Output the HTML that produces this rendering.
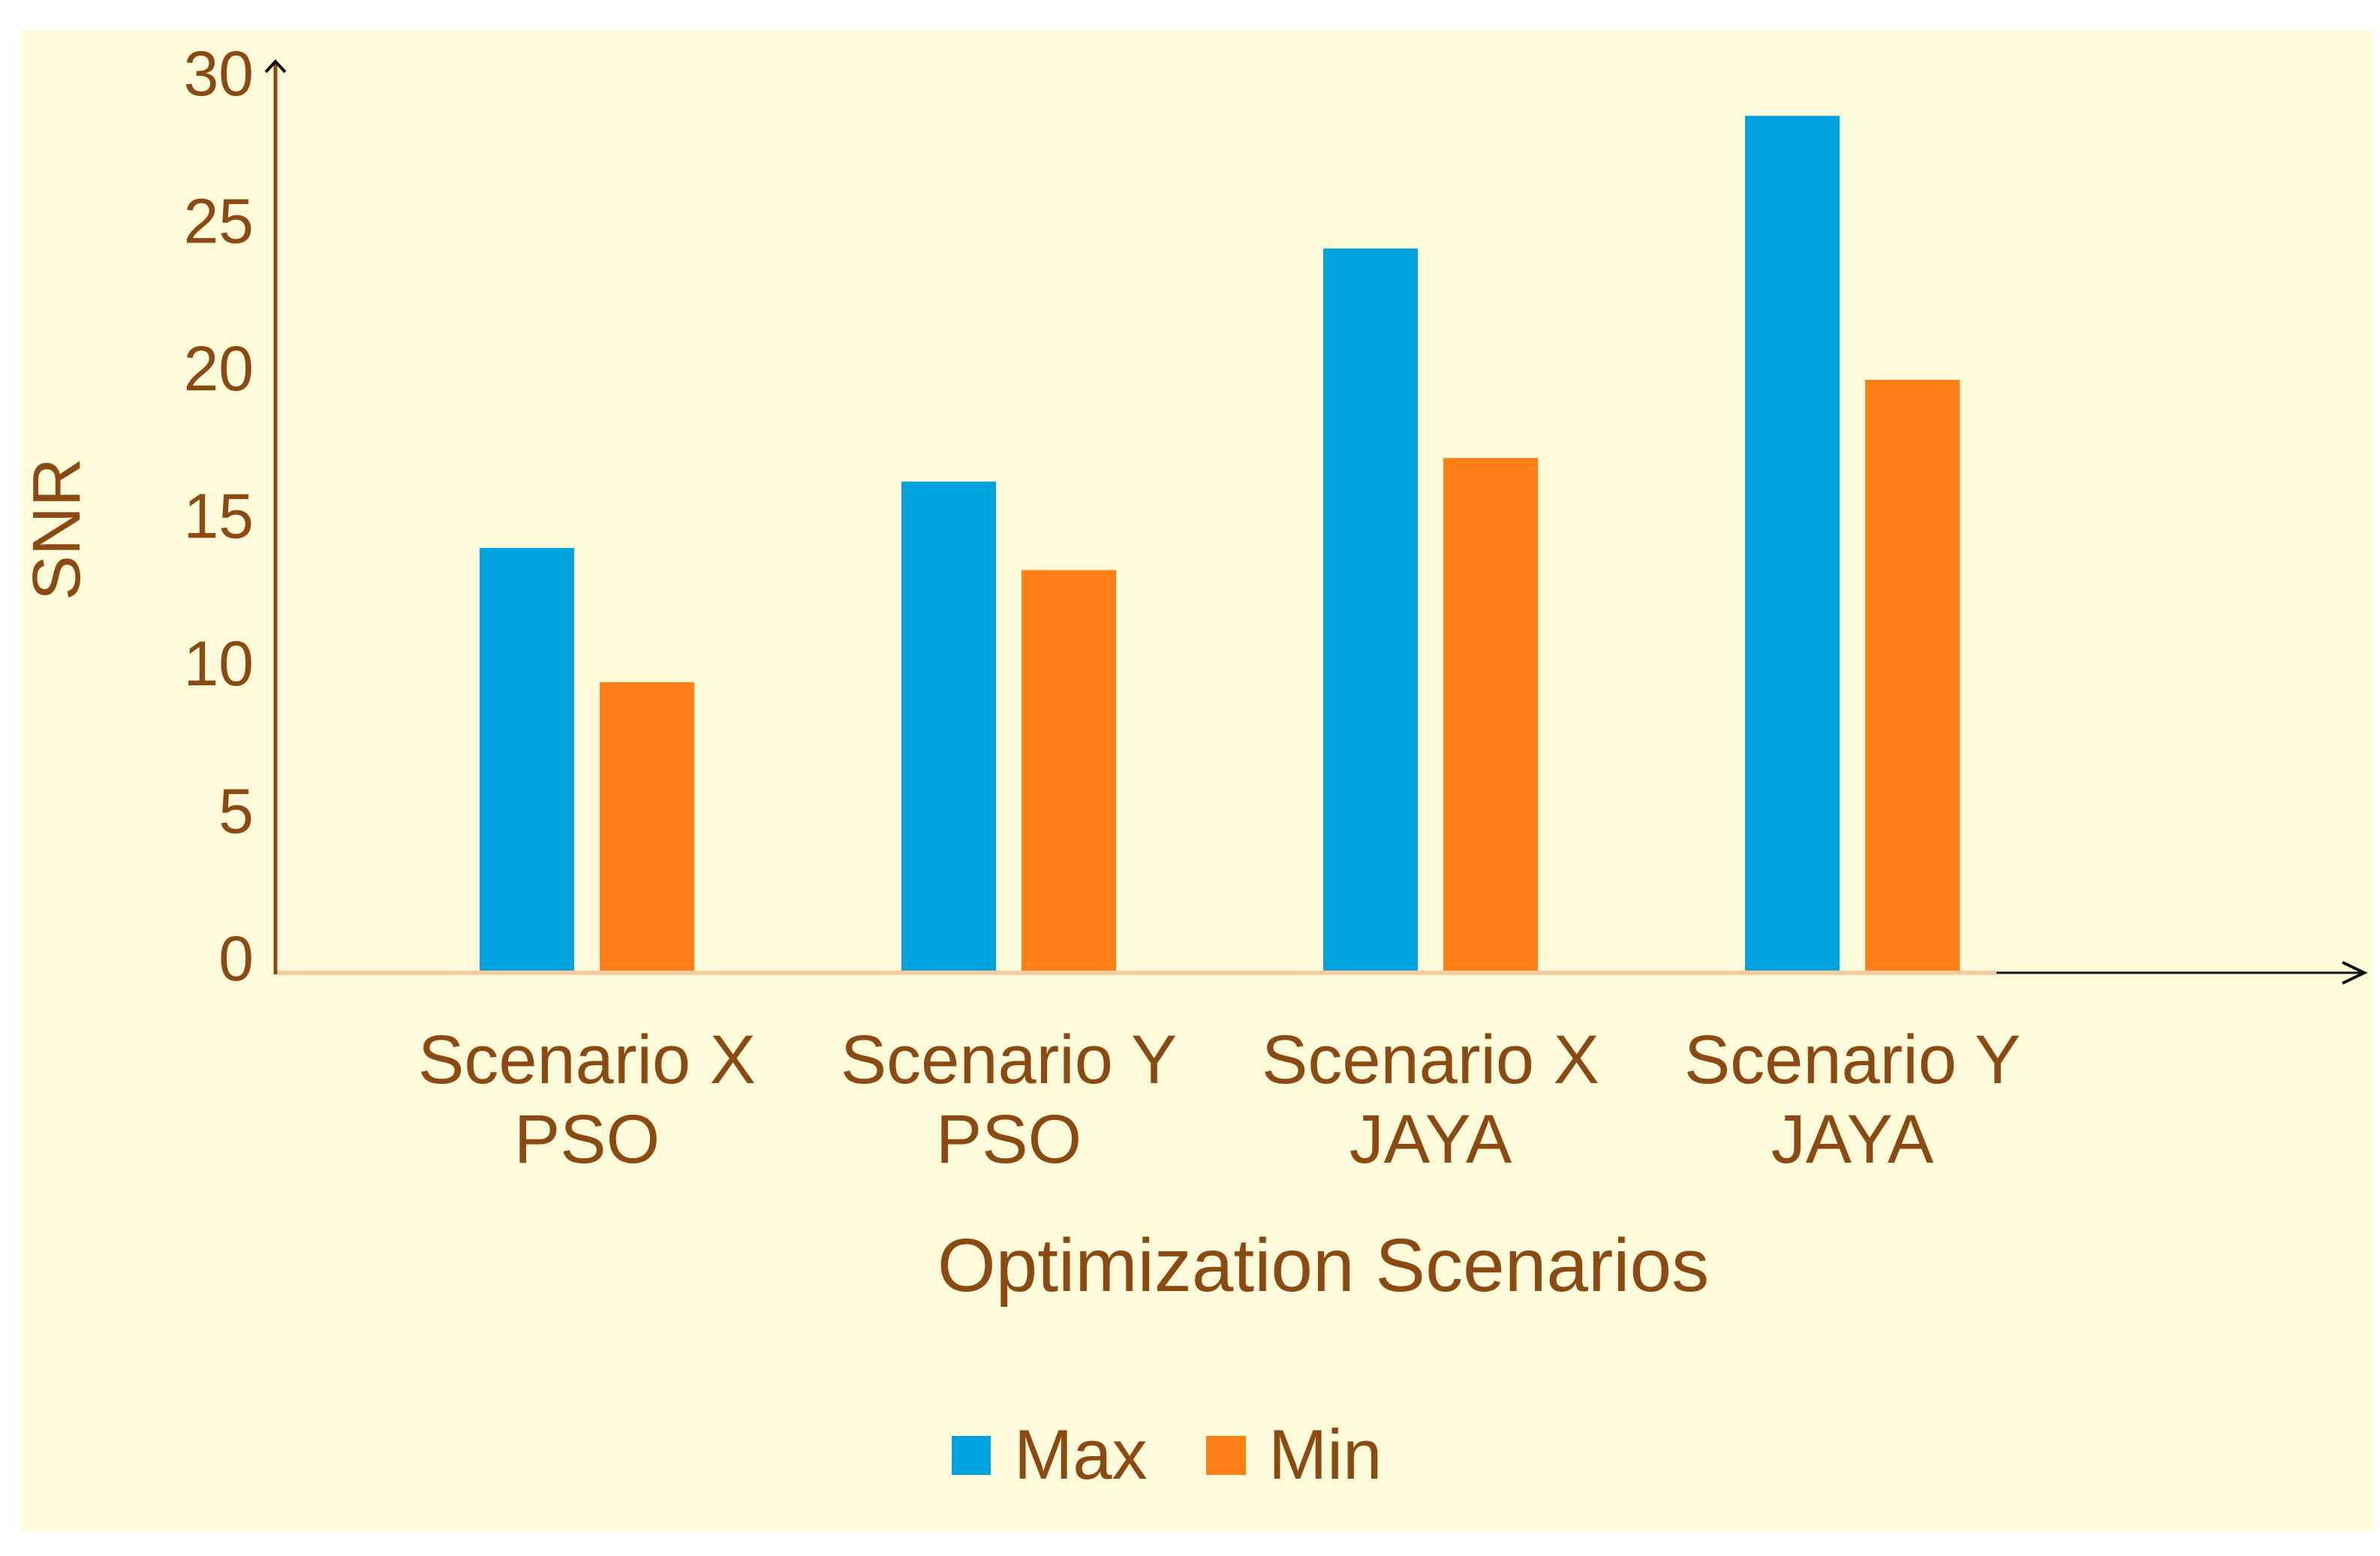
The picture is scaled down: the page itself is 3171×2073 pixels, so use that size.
<!DOCTYPE html>
<html><head><meta charset="utf-8"><style>
html,body{margin:0;padding:0;background:#fff}
svg{display:block}
text{font-family:"Liberation Sans",sans-serif;fill:#8A4A12}
</style></head><body>
<svg id="chart" width="3171" height="2073" viewBox="0 0 3171 2073" xmlns="http://www.w3.org/2000/svg">
<rect x="28" y="40" width="3134" height="2000" fill="#FFFBDA"/>
<g id="bars"></g>
<g id="axes"></g>
<text transform="translate(106,705) rotate(-90)" text-anchor="middle" font-size="90">SNR</text>
<text x="1763" y="1720" text-anchor="middle" font-size="100">Optimization Scenarios</text>
<g>
<rect x="1268" y="1913" width="52" height="52" fill="#00A3DD"/>
<text x="1351" y="1970" font-size="94">Max</text>
<rect x="1607" y="1913" width="53" height="52" fill="#FF7F16"/>
<text x="1690" y="1970" font-size="94">Min</text>
</g>
</svg>
<script>
const categories1 = ["Scenario X","Scenario Y","Scenario X","Scenario Y"];
const categories2 = ["PSO","PSO","JAYA","JAYA"];
const maxValues = [14.35, 16.6, 24.5, 29.0];
const minValues = [9.8, 13.6, 17.4, 20.05];
const yTicks = [0,5,10,15,20,25,30];

const NS="http://www.w3.org/2000/svg";
const y0=1294, unit=39.3;
function yScale(v){return y0-v*unit;}
function xGroup(i){return 639+i*562;}
const barW=126, gap=34;
const bars=document.getElementById('bars');
const axes=document.getElementById('axes');
function mk(tag,attrs,parent){const e=document.createElementNS(NS,tag);for(const k in attrs)e.setAttribute(k,attrs[k]);parent.appendChild(e);return e;}

let bl=mk('line',{x1:367,y1:1296,x2:2660,y2:1296,stroke:'#F9C9A0','stroke-width':6},axes);


let xa=mk('line',{x1:2660,y1:1296,x2:3148,y2:1296,stroke:'#111','stroke-width':3},axes);


let xh=mk('polyline',{points:'3121,1282 3150,1296 3121,1310',fill:'none',stroke:'#111','stroke-width':4},axes);


let ya=mk('line',{x1:367,y1:1298,x2:367,y2:84,stroke:'#8A4A12','stroke-width':5},axes);


let yh=mk('polyline',{points:'354,96 367,82 380,96',fill:'none',stroke:'#111','stroke-width':4},axes);



yTicks.forEach(t=>{
  const tx=mk('text',{x:338,y:yScale(t)+12,'text-anchor':'end','font-size':84},axes);
  tx.textContent=t;
  
  
});

categories1.forEach((c,i)=>{
  const x=xGroup(i);
  const b1=mk('rect',{x:x,y:yScale(maxValues[i]),width:barW,height:y0-yScale(maxValues[i]),fill:'#00A3DD'},bars);
  
  
  const b2=mk('rect',{x:x+barW+gap,y:yScale(minValues[i]),width:barW,height:y0-yScale(minValues[i]),fill:'#FF7F16'},bars);
  
  
  const cx=x+barW+gap/2;
  const l1=mk('text',{x:cx,y:1443,'text-anchor':'middle','font-size':92},axes);
  l1.textContent=c;
  
  
  const l2=mk('text',{x:cx,y:1549,'text-anchor':'middle','font-size':92},axes);
  l2.textContent=categories2[i];
  
  
});
</script>
</body></html>
